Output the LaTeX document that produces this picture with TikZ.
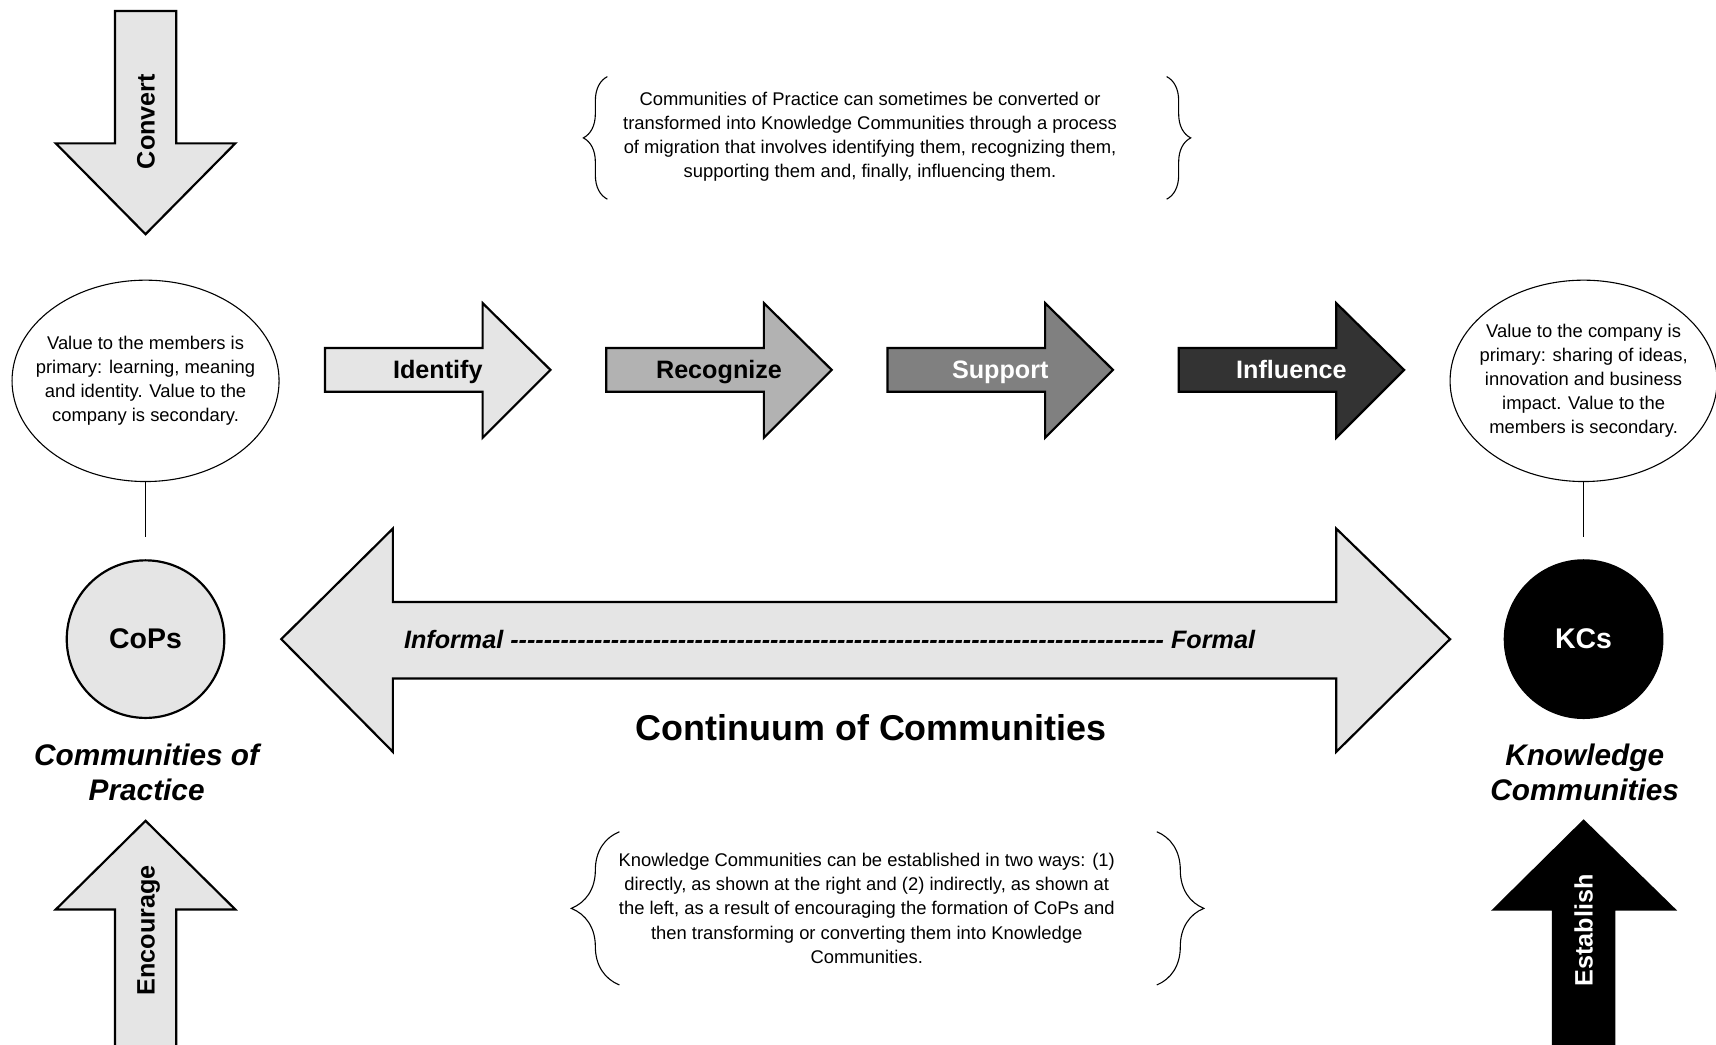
\documentclass[tikz,border=0pt]{standalone}
\usepackage{fontspec}
\setmainfont{Liberation Sans}
\usetikzlibrary{positioning, shapes.geometric, decorations.pathreplacing}
\definecolor{gray10}{gray}{0.9}
\definecolor{gray30}{gray}{0.7}
\definecolor{gray50}{gray}{0.5}
\definecolor{gray80}{gray}{0.2}
\tikzset{
  blockarrow/.style={draw, line width=1pt, line join=miter},
  steplabel/.style={font=\fontsize{11.5}{13}\selectfont\bfseries, text height=8.2pt, text depth=0pt},
  note/.style={align=center, inner sep=0pt, font=\fontsize{8.4}{11}\selectfont},
  valuebubble/.style={ellipse, draw, line width=.5pt, minimum width=122pt, minimum height=92pt, inner sep=0pt},
  community/.style={circle, draw, line width=1pt, minimum size=72pt, font=\fontsize{13}{15}\selectfont\bfseries},
  caption/.style={align=center, inner sep=0pt, font=\fontsize{13.6}{16}\selectfont\bfseries\itshape},
  notebrace/.style={decorate, decoration={brace, amplitude=#1}, line width=.5pt},
}

\begin{document}
\begin{tikzpicture}[x=0.5pt, y=-0.5pt]
  \useasboundingbox (0,0) rectangle (1568,954);

  % migration steps
  \foreach \x/\shade/\ink/\name in {297/gray10/black/Identify, 554/gray30/black/Recognize,
                                    811/gray50/white/Support, 1077/gray80/white/Influence}{
    \draw[blockarrow, fill=\shade] (\x,318) -- ++(144,0) -- ++(0,-41) -- ++(62,61)
      -- ++(-62,62) -- ++(0,-42) -- ++(-144,0) -- cycle;
    \node[steplabel, text=\ink] (\name) at (\x+103,338) {\name};
  }

  % continuum
  \draw[blockarrow, fill=gray10] (257,584) -- (359,483) -- (359,550) -- (1221,550) -- (1221,483)
    -- (1325,584) -- (1221,687) -- (1221,620) -- (359,620) -- (359,687) -- cycle;
  \node[steplabel, font=\fontsize{11.5}{13}\selectfont\bfseries\itshape] (scale) at (758,584)
    {Informal \foreach \k in {1,...,78}{-} Formal};
  \node[font=\fontsize{16.4}{19}\selectfont\bfseries] (title) at (796,665) {Continuum of Communities};

  % communities of practice
  \node[valuebubble] (copvalue) at (133,348) {};
  \node[note] at (copvalue) {Value to the members is\\primary: learning, meaning\\and identity. Value to the\\company is secondary.};
  \node[community, fill=gray10] (cops) at (133,584) {CoPs};
  \node[caption] (copcap) at (134,706) {Communities of\\Practice};
  \draw[line width=.5pt, shorten >=10pt] (copvalue) -- (cops);

  % knowledge communities
  \node[valuebubble] (kcvalue) at (1447,348) {};
  \node[note] at (kcvalue) {Value to the company is\\primary: sharing of ideas,\\innovation and business\\impact. Value to the\\members is secondary.};
  \node[community, fill=black, text=white] (kcs) at (1447,584) {KCs};
  \node[caption] (kccap) at (1448,706) {Knowledge\\Communities};
  \draw[line width=.5pt, shorten >=10pt] (kcvalue) -- (kcs);

  % convert, encourage, establish
  \draw[blockarrow, fill=gray10] (105,10) -- (161,10) -- (161,131) -- (215,131) -- (133,214)
    -- (51,131) -- (105,131) -- cycle;
  \node[steplabel, rotate=90] (convert) at (133,111) {Convert};
  \draw[blockarrow, fill=gray10] (133,750) -- (215,831) -- (161,831) -- (161,970) -- (105,970)
    -- (105,831) -- (51,831) -- cycle;
  \node[steplabel, rotate=90] (encourage) at (133,850) {Encourage};
  \draw[blockarrow, fill=black] (1447,750) -- (1530,831) -- (1475,831) -- (1475,970) -- (1419,970)
    -- (1419,831) -- (1365,831) -- cycle;
  \node[steplabel, rotate=90, text=white] (establish) at (1447,850) {Establish};

  % notes
  \node[note] (topnote) at (795,125) {Communities of Practice can sometimes be converted or\\
    transformed into Knowledge Communities through a process\\
    of migration that involves identifying them, recognizing them,\\
    supporting them and, finally, influencing them.};
  \draw[notebrace=11pt] (555,182) -- (555,70);
  \draw[notebrace=11pt] (1066,70) -- (1066,182);

  \node[note] (bottomnote) at (792,830) {Knowledge Communities can be established in two ways: (1)\\
    directly, as shown at the right and (2) indirectly, as shown at\\
    the left, as a result of encouraging the formation of CoPs and\\
    then transforming or converting them into Knowledge\\
    Communities.};
  \draw[notebrace=22pt] (566,900) -- (566,760);
  \draw[notebrace=21.5pt] (1057,760) -- (1057,900);
\end{tikzpicture}
\end{document}
